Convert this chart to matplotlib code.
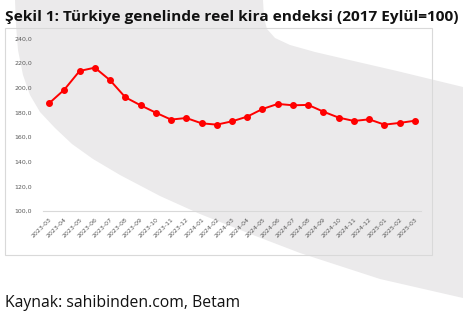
import matplotlib
matplotlib.use("Agg")
import matplotlib.pyplot as plt
import matplotlib.patches as patches
from matplotlib.ticker import FuncFormatter

W, H = 463, 317

months = ["2023-03", "2023-04", "2023-05", "2023-06", "2023-07", "2023-08",
          "2023-09", "2023-10", "2023-11", "2023-12", "2024-01", "2024-02",
          "2024-03", "2024-04", "2024-05", "2024-06", "2024-07", "2024-08",
          "2024-09", "2024-10", "2024-11", "2024-12", "2025-01", "2025-02",
          "2025-03"]
rent_index = [187.3, 198.4, 213.5, 216.2, 206.0, 192.2, 185.7, 179.7, 174.1,
              175.4, 171.1, 170.0, 172.7, 176.5, 182.7, 186.8, 185.7, 186.0,
              180.5, 175.7, 173.0, 174.3, 170.0, 171.4, 173.2]
y_ticks = [100, 120, 140, 160, 180, 200, 220, 240]


def px(x, y):
    # pixel coords (y down) -> figure fraction
    return x / W, 1 - y / H


fig = plt.figure(figsize=(W / 100, H / 100), dpi=100)
fig.patch.set_facecolor("white")

# background layer: grey watermark swoosh + chart frame
bg = fig.add_axes([0, 0, 1, 1], zorder=0)
bg.set_xlim(0, W)
bg.set_ylim(H, 0)
bg.axis("off")
swoosh = [(15, 0), (263, 0), (264, 18), (267, 29), (275, 38), (290, 45),
          (315, 52), (345, 59), (397, 71), (463, 87), (463, 298), (380, 279),
          (300, 253), (253, 235), (200, 214), (160, 196), (120, 175),
          (93, 159), (72, 144), (55, 128), (40, 112), (30, 95), (23, 75),
          (18, 50), (16, 25)]
bg.add_patch(patches.Polygon(swoosh, closed=True, facecolor="#ebeaeb", edgecolor="none"))
bg.add_patch(patches.Rectangle((5, 28), 427, 227, facecolor="none",
                               edgecolor="#d9d9d9", lw=0.8))

l, b = px(43, 211)
r, t = px(421, 38.3)
ax = fig.add_axes([l, b, r - l, t - b], zorder=2)
ax.patch.set_alpha(0)

xs = list(range(len(months)))
ax.plot(xs, rent_index, color="#ff0000", lw=1.4, marker="o", ms=4, zorder=3)

ax.set_xlim(-0.4, len(months) - 0.6)
ax.set_ylim(100, 240)
ax.set_yticks(y_ticks)
ax.yaxis.set_major_formatter(FuncFormatter(lambda v, p: f"{v:.1f}".replace(".", ",")))
ax.set_xticks(xs)
ax.set_xticklabels(months, rotation=45, ha="right", rotation_mode="anchor")
ax.tick_params(axis="both", length=0, labelsize=4.5, labelcolor="#595959")
ax.tick_params(axis="y", pad=8)
ax.tick_params(axis="x", pad=4)
for s in ["top", "right", "left"]:
    ax.spines[s].set_visible(False)
ax.spines["bottom"].set_color("#d9d9d9")
ax.spines["bottom"].set_linewidth(0.8)

fig.text(5 / W, 1 - 17 / H, "Şekil 1: Türkiye genelinde reel kira endeksi (2017 Eylül=100)",
         fontsize=11.1, weight="bold", family="Open Sans", color="#111111",
         ha="left", va="center", zorder=3)
fig.text(5 / W, 1 - 303 / H, "Kaynak: sahibinden.com, Betam",
         fontsize=11.3, family="Open Sans", color="#111111", ha="left", va="center",
         zorder=3)

fig.savefig("out.png", dpi=100, facecolor="white")
